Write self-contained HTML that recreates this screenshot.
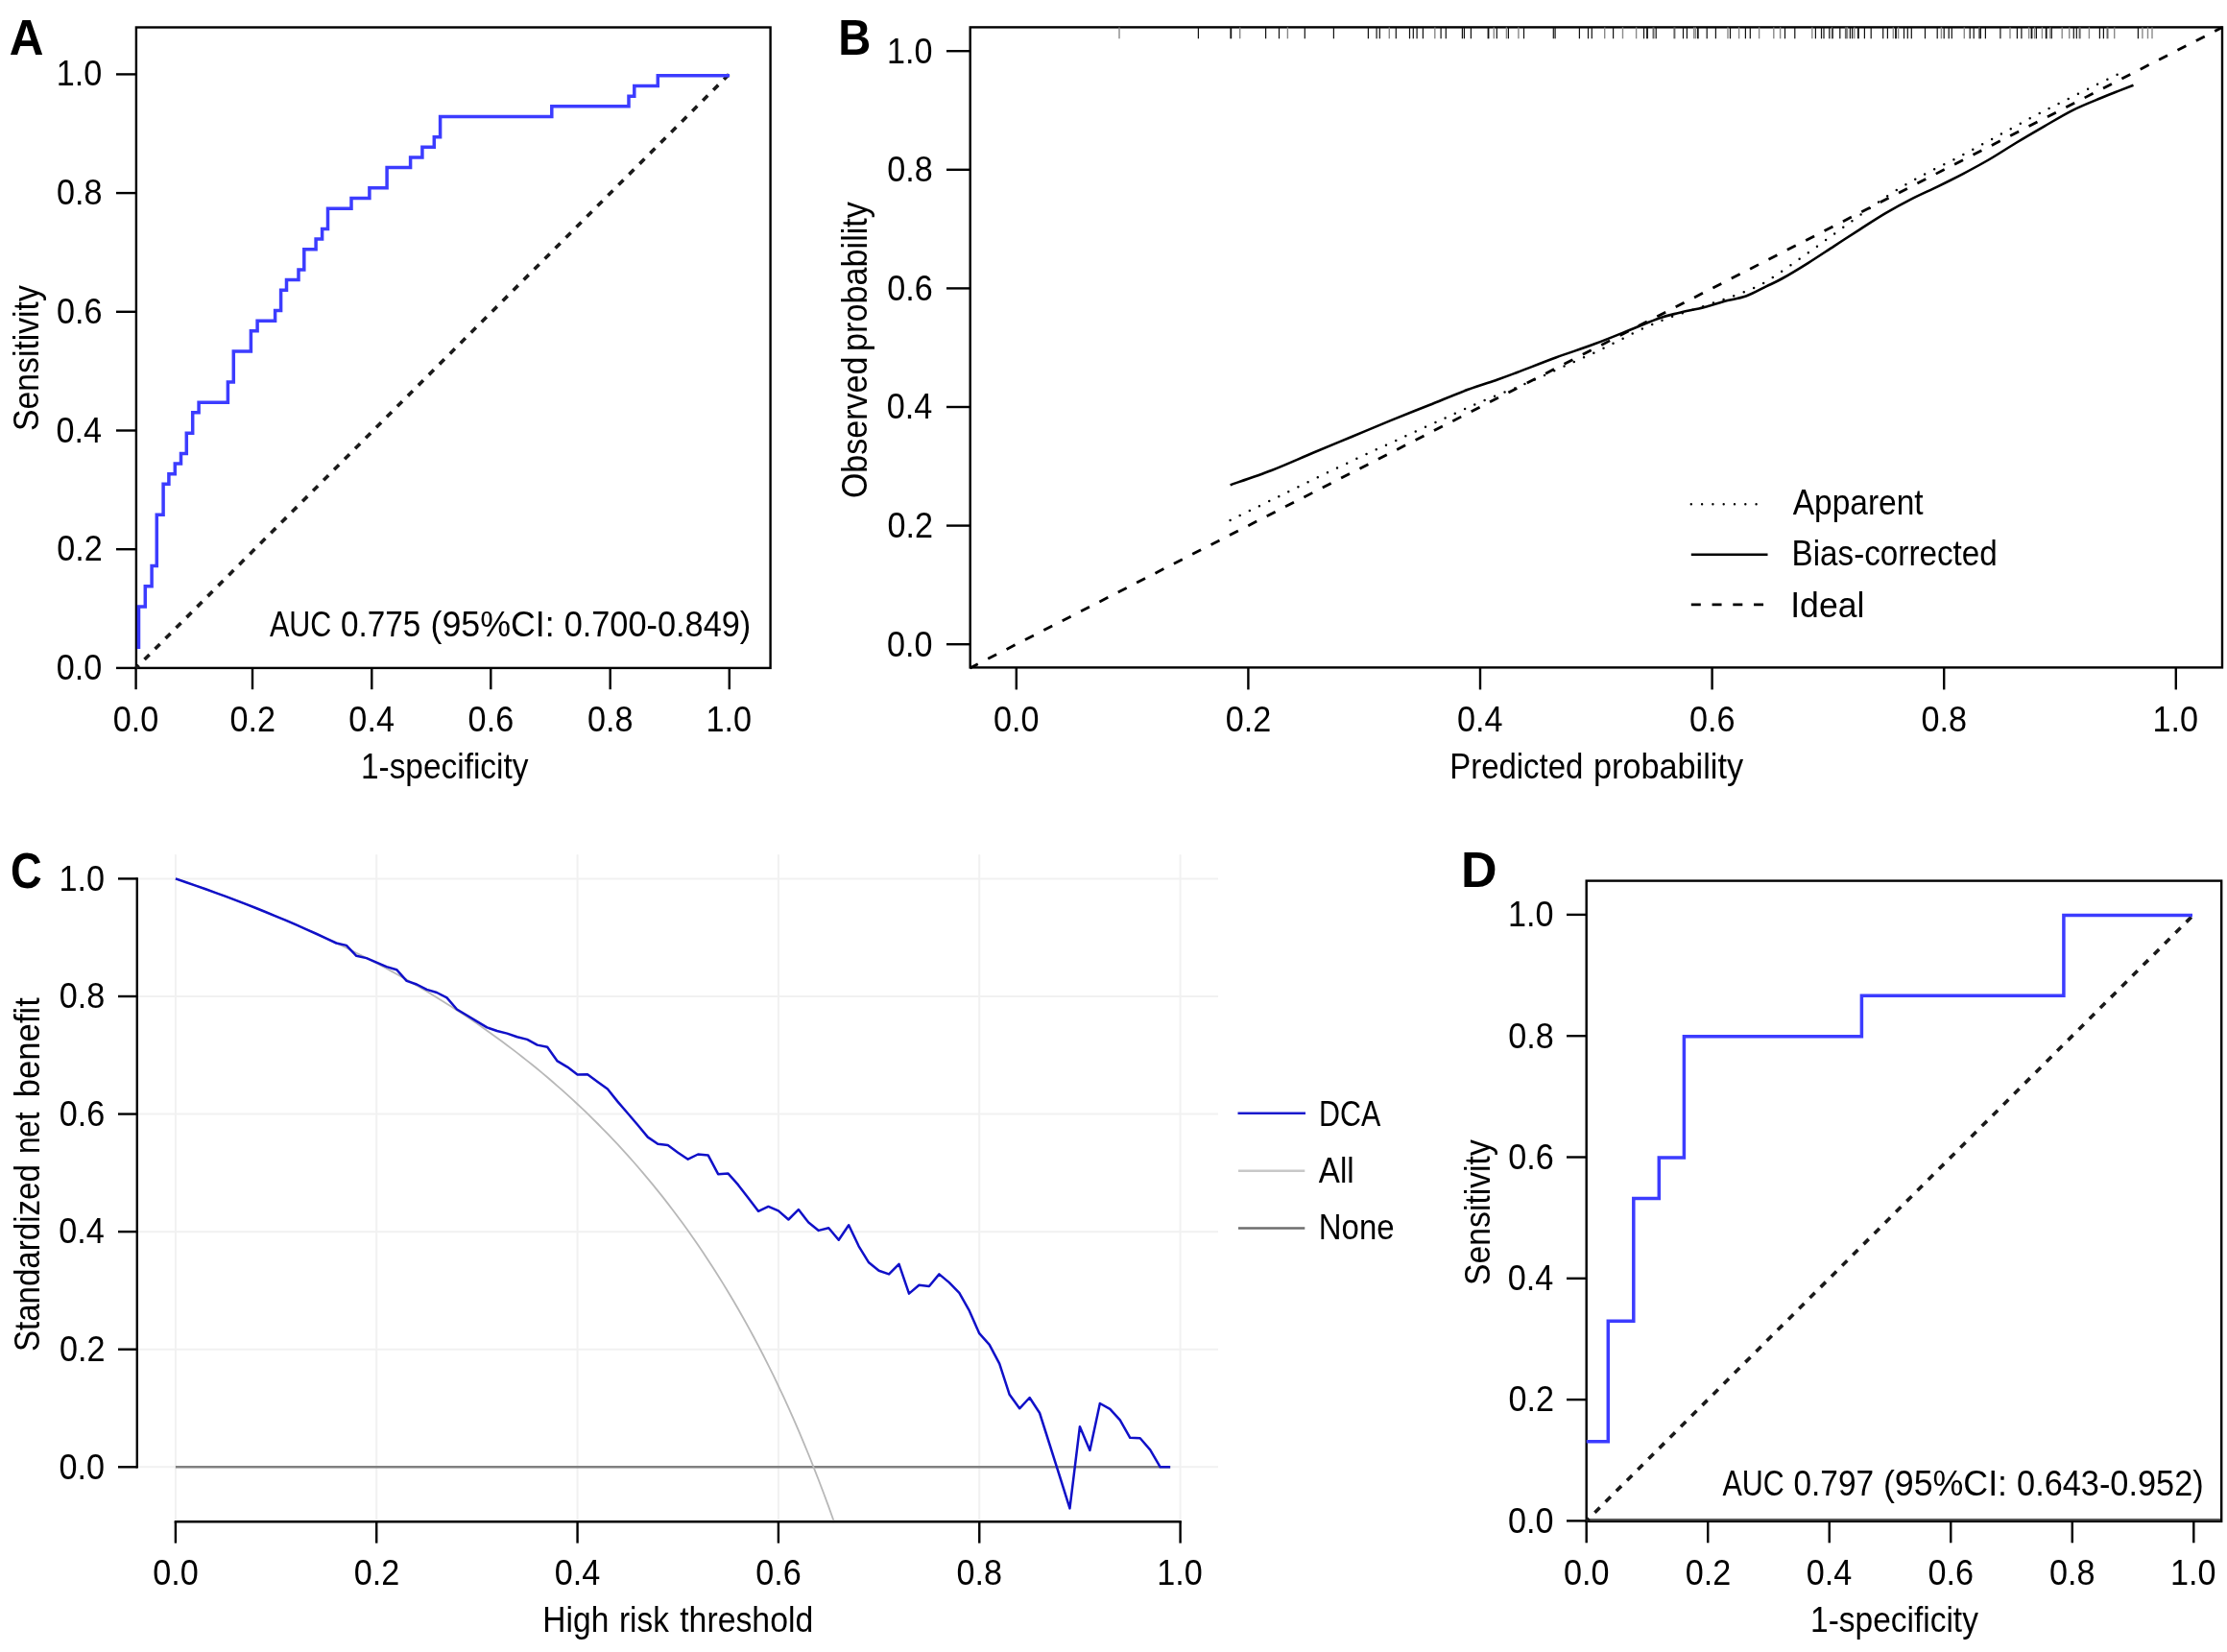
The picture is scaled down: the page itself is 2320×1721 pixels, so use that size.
<!DOCTYPE html>
<html><head><meta charset="utf-8"><style>
html,body{margin:0;padding:0;background:#fff;overflow:hidden}
svg{display:block}
svg{will-change:transform}
text{font-family:'Liberation Sans',sans-serif;font-kerning:none;font-variant-ligatures:none}
</style></head><body>
<svg width="2320" height="1721" viewBox="0 0 2320 1721">
<rect width="2320" height="1721" fill="#fff"/>
<text transform="translate(9.87 56.9) scale(0.9462 1)" font-size="52.3" font-weight="bold" fill="#000">A</text>
<rect x="141.9" y="28.5" width="660.7" height="667.4" fill="none" stroke="#000" stroke-width="2.4"/>
<line x1="121" y1="695.9" x2="141.9" y2="695.9" stroke="#000" stroke-width="2.4"/>
<text transform="translate(58.79 707.9) scale(0.9500 1)" font-size="36">0.0</text>
<line x1="141.6" y1="695.9" x2="141.6" y2="718.2" stroke="#000" stroke-width="2.4"/>
<text transform="translate(117.83 761.7) scale(0.9500 1)" font-size="36">0.0</text>
<line x1="121" y1="572.2" x2="141.9" y2="572.2" stroke="#000" stroke-width="2.4"/>
<text transform="translate(59.18 584.2) scale(0.9500 1)" font-size="36">0.2</text>
<line x1="263" y1="695.9" x2="263" y2="718.2" stroke="#000" stroke-width="2.4"/>
<text transform="translate(239.42 761.7) scale(0.9500 1)" font-size="36">0.2</text>
<line x1="121" y1="448.5" x2="141.9" y2="448.5" stroke="#000" stroke-width="2.4"/>
<text transform="translate(58.46 460.5) scale(0.9500 1)" font-size="36">0.4</text>
<line x1="387.3" y1="695.9" x2="387.3" y2="718.2" stroke="#000" stroke-width="2.4"/>
<text transform="translate(363.36 761.7) scale(0.9500 1)" font-size="36">0.4</text>
<line x1="121" y1="324.8" x2="141.9" y2="324.8" stroke="#000" stroke-width="2.4"/>
<text transform="translate(58.96 336.8) scale(0.9500 1)" font-size="36">0.6</text>
<line x1="511.3" y1="695.9" x2="511.3" y2="718.2" stroke="#000" stroke-width="2.4"/>
<text transform="translate(487.61 761.7) scale(0.9500 1)" font-size="36">0.6</text>
<line x1="121" y1="201.1" x2="141.9" y2="201.1" stroke="#000" stroke-width="2.4"/>
<text transform="translate(58.94 213.1) scale(0.9500 1)" font-size="36">0.8</text>
<line x1="635.7" y1="695.9" x2="635.7" y2="718.2" stroke="#000" stroke-width="2.4"/>
<text transform="translate(612 761.7) scale(0.9500 1)" font-size="36">0.8</text>
<line x1="121" y1="77.4" x2="141.9" y2="77.4" stroke="#000" stroke-width="2.4"/>
<text transform="translate(58.79 89.4) scale(0.9500 1)" font-size="36">1.0</text>
<line x1="759.8" y1="695.9" x2="759.8" y2="718.2" stroke="#000" stroke-width="2.4"/>
<text transform="translate(735.39 761.7) scale(0.9500 1)" font-size="36">1.0</text>
<text transform="translate(375.95 810.8) scale(0.9234 1)" font-size="36.2" fill="#000">1-specificity</text>
<text transform="translate(40 448.93) rotate(-90) scale(0.9315 1)" font-size="36.2">Sensitivity</text>
<text transform="translate(281.04 663) scale(0.8402 1)" font-size="36.2" fill="#000">AUC</text>
<text transform="translate(355.1 663) scale(0.9195 1)" font-size="36.2" fill="#000">0.775</text>
<text transform="translate(448.48 663) scale(0.9879 1)" font-size="36.2" fill="#000">(95%CI:</text>
<text transform="translate(587.66 663) scale(0.9483 1)" font-size="36.2" fill="#000">0.700-0.849)</text>
<line x1="141.7" y1="695.9" x2="759.45" y2="77.4" stroke="#1a1a1a" stroke-width="3.6" stroke-dasharray="7.2 8.33" stroke-dashoffset="3.03"/>
<polyline points="144.5,676 144.5,676 144.5,631.98 151.3,631.98 151.3,610.7 158.1,610.7 158.1,589.43 163.3,589.43 163.3,536.24 170.1,536.24 170.1,504.33 175.9,504.33 175.9,493.7 182.3,493.7 182.3,483.06 188.5,483.06 188.5,472.42 194.3,472.42 194.3,451.15 200.7,451.15 200.7,429.87 207.1,429.87 207.1,419.24 237.4,419.24 237.4,397.96 243.3,397.96 243.3,366.05 261.4,366.05 261.4,344.78 268.1,344.78 268.1,334.14 286.6,334.14 286.6,323.5 292.6,323.5 292.6,302.23 298.5,302.23 298.5,291.59 311,291.59 311,280.96 316.8,280.96 316.8,259.68 329.1,259.68 329.1,249.05 335.6,249.05 335.6,238.41 341.5,238.41 341.5,217.13 366,217.13 366,206.5 384.9,206.5 384.9,195.86 403.1,195.86 403.1,174.59 427.6,174.59 427.6,163.95 439.9,163.95 439.9,153.31 452.3,153.31 452.3,142.68 458.6,142.68 458.6,121.4 574.8,121.4 574.8,110.76 655,110.76 655,100.13 660.8,100.13 660.8,89.49 685.3,89.49 685.3,78.85 760,78.85" fill="none" stroke="#3c3cff" stroke-width="3.5" stroke-linejoin="miter"/>
<text transform="translate(873.34 57.1) scale(0.9029 1)" font-size="52.3" font-weight="bold" fill="#000">B</text>
<rect x="1010.7" y="28.4" width="1304.3" height="667" fill="none" stroke="#000" stroke-width="2.4"/>
<line x1="986" y1="671.2" x2="1010.7" y2="671.2" stroke="#000" stroke-width="2.4"/>
<text transform="translate(923.99 683.5) scale(0.9500 1)" font-size="36">0.0</text>
<line x1="1058.8" y1="695.4" x2="1058.8" y2="718.4" stroke="#000" stroke-width="2.4"/>
<text transform="translate(1035.03 761.7) scale(0.9500 1)" font-size="36">0.0</text>
<line x1="986" y1="547.6" x2="1010.7" y2="547.6" stroke="#000" stroke-width="2.4"/>
<text transform="translate(924.38 559.9) scale(0.9500 1)" font-size="36">0.2</text>
<line x1="1300.4" y1="695.4" x2="1300.4" y2="718.4" stroke="#000" stroke-width="2.4"/>
<text transform="translate(1276.82 761.7) scale(0.9500 1)" font-size="36">0.2</text>
<line x1="986" y1="424" x2="1010.7" y2="424" stroke="#000" stroke-width="2.4"/>
<text transform="translate(923.66 436.3) scale(0.9500 1)" font-size="36">0.4</text>
<line x1="1542" y1="695.4" x2="1542" y2="718.4" stroke="#000" stroke-width="2.4"/>
<text transform="translate(1518.06 761.7) scale(0.9500 1)" font-size="36">0.4</text>
<line x1="986" y1="300.4" x2="1010.7" y2="300.4" stroke="#000" stroke-width="2.4"/>
<text transform="translate(924.16 312.7) scale(0.9500 1)" font-size="36">0.6</text>
<line x1="1783.6" y1="695.4" x2="1783.6" y2="718.4" stroke="#000" stroke-width="2.4"/>
<text transform="translate(1759.91 761.7) scale(0.9500 1)" font-size="36">0.6</text>
<line x1="986" y1="176.8" x2="1010.7" y2="176.8" stroke="#000" stroke-width="2.4"/>
<text transform="translate(924.14 189.1) scale(0.9500 1)" font-size="36">0.8</text>
<line x1="2025.2" y1="695.4" x2="2025.2" y2="718.4" stroke="#000" stroke-width="2.4"/>
<text transform="translate(2001.5 761.7) scale(0.9500 1)" font-size="36">0.8</text>
<line x1="986" y1="53.2" x2="1010.7" y2="53.2" stroke="#000" stroke-width="2.4"/>
<text transform="translate(923.99 65.5) scale(0.9500 1)" font-size="36">1.0</text>
<line x1="2266.8" y1="695.4" x2="2266.8" y2="718.4" stroke="#000" stroke-width="2.4"/>
<text transform="translate(2242.39 761.7) scale(0.9500 1)" font-size="36">1.0</text>
<text transform="translate(1510.2 810.9) scale(0.9104 1)" font-size="36.2" fill="#000">Predicted</text>
<text transform="translate(1659.99 810.9) scale(0.9459 1)" font-size="36.2" fill="#000">probability</text>
<text transform="translate(903.4 519.11) rotate(-90) scale(0.9399 1)" font-size="36.2">Observed</text>
<text transform="translate(903.4 366.01) rotate(-90) scale(0.9453 1)" font-size="36.2">probability</text>
<line x1="1761.8" y1="525.2" x2="1831" y2="525.2" stroke="#000" stroke-width="2.4" stroke-dasharray="0 11.3" stroke-linecap="round"/>
<line x1="1761.8" y1="577.8" x2="1841.5" y2="577.8" stroke="#000" stroke-width="2.6"/>
<line x1="1761.8" y1="629.8" x2="1837.1" y2="629.8" stroke="#000" stroke-width="2.8" stroke-dasharray="10 11.75"/>
<text transform="translate(1867.63 536.1) scale(0.9264 1)" font-size="36.2" fill="#000">Apparent</text>
<text transform="translate(1866.57 588.6) scale(0.9181 1)" font-size="36.2" fill="#000">Bias-corrected</text>
<text transform="translate(1865.21 642.8) scale(0.9844 1)" font-size="36.2" fill="#000">Ideal</text>
<line x1="1010.48" y1="695.92" x2="2315.12" y2="28.48" stroke="#000" stroke-width="2.8" stroke-dasharray="10 11.75" stroke-dashoffset="0.69"/>
<path d="M1281.6,505.2 C1288.78,502.67 1310.33,495.57 1324.7,490 C1339.07,484.43 1353.88,477.63 1367.8,471.8 C1381.72,465.97 1394.73,460.62 1408.2,455 C1421.67,449.38 1435.13,443.6 1448.6,438.1 C1462.07,432.6 1475.53,427.38 1489,422 C1502.47,416.62 1517.57,410.22 1529.4,405.8 C1541.23,401.38 1551.5,398.47 1560,395.5 C1568.5,392.53 1570.27,391.83 1580.4,388 C1590.53,384.17 1607.33,377.45 1620.8,372.5 C1634.27,367.55 1647.72,363.35 1661.2,358.3 C1674.68,353.25 1690.47,346.68 1701.7,342.2 C1712.93,337.72 1720.75,334.1 1728.6,331.4 C1736.45,328.7 1740.93,327.9 1748.8,326 C1756.67,324.1 1767.93,322.02 1775.8,320 C1783.67,317.98 1788.82,315.82 1796,313.9 C1803.18,311.98 1811.57,311.08 1818.9,308.5 C1826.23,305.92 1833.67,301.48 1840,298.4 C1846.33,295.32 1849.58,294.1 1856.9,290 C1864.22,285.9 1874.92,279.42 1883.9,273.8 C1892.88,268.18 1901.82,262.13 1910.8,256.3 C1919.78,250.47 1928.82,244.53 1937.8,238.8 C1946.78,233.07 1955.72,227.18 1964.7,221.9 C1973.68,216.62 1982.72,211.7 1991.7,207.1 C2000.68,202.5 2009.63,198.68 2018.6,194.3 C2027.57,189.92 2036.52,185.52 2045.5,180.8 C2054.48,176.08 2063.42,171.3 2072.5,166 C2081.58,160.7 2090.48,154.73 2100,149 C2109.52,143.27 2119.72,137.3 2129.6,131.6 C2139.48,125.9 2149.42,119.73 2159.3,114.8 C2169.18,109.87 2180.67,105.45 2188.9,102 C2197.13,98.55 2203.1,96.32 2208.7,94.1 C2214.3,91.88 2220.2,89.6 2222.5,88.7" fill="none" stroke="#000" stroke-width="2.6"/>
<path d="M1281.6,541.9 C1290.12,537.75 1314.07,526.1 1332.7,517 C1351.33,507.9 1373.18,496.97 1393.4,487.3 C1413.62,477.63 1433.57,468.43 1454,459 C1474.43,449.57 1500.55,437.7 1516,430.7 C1531.45,423.7 1534.62,422.1 1546.7,417 C1558.78,411.9 1574.8,405.95 1588.5,400.1 C1602.2,394.25 1615.32,388.07 1628.9,381.9 C1642.48,375.73 1656.42,369.62 1670,363.1 C1683.58,356.58 1698.5,348.3 1710.4,342.8 C1722.3,337.3 1730.85,334.02 1741.4,330.1 C1751.95,326.18 1763.03,322.9 1773.7,319.3 C1784.37,315.7 1794.95,312.5 1805.4,308.5 C1815.85,304.5 1825,301.67 1836.4,295.3 C1847.8,288.93 1861.5,278.83 1873.8,270.3 C1886.1,261.77 1898.08,252.83 1910.2,244.1 C1922.32,235.37 1935.83,225.42 1946.5,217.9 C1957.17,210.38 1964.65,204.95 1974.2,199 C1983.75,193.05 1992.25,188.37 2003.8,182.2 C2015.35,176.03 2030.25,168.97 2043.5,162 C2056.75,155.03 2070.05,147.58 2083.3,140.4 C2096.55,133.22 2113.05,124.15 2123,118.9 C2132.95,113.65 2133,113.93 2143,108.9 C2153,103.87 2171.23,94.5 2183,88.7 C2194.77,82.9 2208.5,76.53 2213.6,74.1" fill="none" stroke="#000" stroke-width="2.5" stroke-dasharray="0 11.27" stroke-linecap="round"/>
<line x1="1166" y1="28.4" x2="1166" y2="40.3" stroke="#8a8a8a" stroke-width="1.4"/>
<line x1="1248.4" y1="28.4" x2="1248.4" y2="40.3" stroke="#111" stroke-width="1.2"/>
<line x1="1282.3" y1="28.4" x2="1282.3" y2="40.3" stroke="#111" stroke-width="1.8"/>
<line x1="1291.7" y1="28.4" x2="1291.7" y2="40.3" stroke="#8a8a8a" stroke-width="1.4"/>
<line x1="1318.6" y1="28.4" x2="1318.6" y2="40.3" stroke="#111" stroke-width="1.2"/>
<line x1="1332.5" y1="28.4" x2="1332.5" y2="40.3" stroke="#111" stroke-width="1.2"/>
<line x1="1341.4" y1="28.4" x2="1341.4" y2="40.3" stroke="#8a8a8a" stroke-width="1.4"/>
<line x1="1359.3" y1="28.4" x2="1359.3" y2="40.3" stroke="#111" stroke-width="1.2"/>
<line x1="1389.4" y1="28.4" x2="1389.4" y2="40.3" stroke="#111" stroke-width="1.2"/>
<line x1="1425.4" y1="28.4" x2="1425.4" y2="40.3" stroke="#111" stroke-width="1.2"/>
<line x1="1434.1" y1="28.4" x2="1434.1" y2="40.3" stroke="#111" stroke-width="1.2"/>
<line x1="1437.3" y1="28.4" x2="1437.3" y2="40.3" stroke="#111" stroke-width="1.2"/>
<line x1="1447.3" y1="28.4" x2="1447.3" y2="40.3" stroke="#8a8a8a" stroke-width="1.4"/>
<line x1="1454.3" y1="28.4" x2="1454.3" y2="40.3" stroke="#111" stroke-width="1.2"/>
<line x1="1468.5" y1="28.4" x2="1468.5" y2="40.3" stroke="#111" stroke-width="1.2"/>
<line x1="1472.3" y1="28.4" x2="1472.3" y2="40.3" stroke="#111" stroke-width="1.2"/>
<line x1="1476.1" y1="28.4" x2="1476.1" y2="40.3" stroke="#111" stroke-width="1.2"/>
<line x1="1482.4" y1="28.4" x2="1482.4" y2="40.3" stroke="#111" stroke-width="1.2"/>
<line x1="1494.8" y1="28.4" x2="1494.8" y2="40.3" stroke="#8a8a8a" stroke-width="1.4"/>
<line x1="1501.1" y1="28.4" x2="1501.1" y2="40.3" stroke="#111" stroke-width="1.2"/>
<line x1="1506.3" y1="28.4" x2="1506.3" y2="40.3" stroke="#111" stroke-width="1.2"/>
<line x1="1523.4" y1="28.4" x2="1523.4" y2="40.3" stroke="#111" stroke-width="1.2"/>
<line x1="1525.4" y1="28.4" x2="1525.4" y2="40.3" stroke="#111" stroke-width="1.2"/>
<line x1="1532.4" y1="28.4" x2="1532.4" y2="40.3" stroke="#111" stroke-width="1.2"/>
<line x1="1550.5" y1="28.4" x2="1550.5" y2="40.3" stroke="#111" stroke-width="1.8"/>
<line x1="1556.3" y1="28.4" x2="1556.3" y2="40.3" stroke="#8a8a8a" stroke-width="1.4"/>
<line x1="1559.3" y1="28.4" x2="1559.3" y2="40.3" stroke="#111" stroke-width="1.2"/>
<line x1="1569.4" y1="28.4" x2="1569.4" y2="40.3" stroke="#8a8a8a" stroke-width="1.4"/>
<line x1="1571.4" y1="28.4" x2="1571.4" y2="40.3" stroke="#111" stroke-width="1.2"/>
<line x1="1581.9" y1="28.4" x2="1581.9" y2="40.3" stroke="#8a8a8a" stroke-width="1.4"/>
<line x1="1587.5" y1="28.4" x2="1587.5" y2="40.3" stroke="#111" stroke-width="1.2"/>
<line x1="1618.3" y1="28.4" x2="1618.3" y2="40.3" stroke="#111" stroke-width="1.2"/>
<line x1="1620.1" y1="28.4" x2="1620.1" y2="40.3" stroke="#111" stroke-width="1.2"/>
<line x1="1645.4" y1="28.4" x2="1645.4" y2="40.3" stroke="#111" stroke-width="1.2"/>
<line x1="1654.5" y1="28.4" x2="1654.5" y2="40.3" stroke="#111" stroke-width="1.2"/>
<line x1="1658.3" y1="28.4" x2="1658.3" y2="40.3" stroke="#111" stroke-width="1.2"/>
<line x1="1671.7" y1="28.4" x2="1671.7" y2="40.3" stroke="#8a8a8a" stroke-width="1.4"/>
<line x1="1680.6" y1="28.4" x2="1680.6" y2="40.3" stroke="#111" stroke-width="1.2"/>
<line x1="1690.5" y1="28.4" x2="1690.5" y2="40.3" stroke="#8a8a8a" stroke-width="1.4"/>
<line x1="1704.6" y1="28.4" x2="1704.6" y2="40.3" stroke="#8a8a8a" stroke-width="1.4"/>
<line x1="1712.5" y1="28.4" x2="1712.5" y2="40.3" stroke="#111" stroke-width="1.2"/>
<line x1="1716" y1="28.4" x2="1716" y2="40.3" stroke="#111" stroke-width="1.8"/>
<line x1="1722.5" y1="28.4" x2="1722.5" y2="40.3" stroke="#666" stroke-width="2.0"/>
<line x1="1725.2" y1="28.4" x2="1725.2" y2="40.3" stroke="#111" stroke-width="1.2"/>
<line x1="1744.4" y1="28.4" x2="1744.4" y2="40.3" stroke="#666" stroke-width="2.0"/>
<line x1="1753.5" y1="28.4" x2="1753.5" y2="40.3" stroke="#111" stroke-width="1.2"/>
<line x1="1757.4" y1="28.4" x2="1757.4" y2="40.3" stroke="#111" stroke-width="1.2"/>
<line x1="1764.7" y1="28.4" x2="1764.7" y2="40.3" stroke="#8a8a8a" stroke-width="1.4"/>
<line x1="1766.3" y1="28.4" x2="1766.3" y2="40.3" stroke="#8a8a8a" stroke-width="1.4"/>
<line x1="1768.8" y1="28.4" x2="1768.8" y2="40.3" stroke="#111" stroke-width="1.8"/>
<line x1="1778.2" y1="28.4" x2="1778.2" y2="40.3" stroke="#111" stroke-width="1.2"/>
<line x1="1787.4" y1="28.4" x2="1787.4" y2="40.3" stroke="#111" stroke-width="1.2"/>
<line x1="1800" y1="28.4" x2="1800" y2="40.3" stroke="#8a8a8a" stroke-width="1.4"/>
<line x1="1802.5" y1="28.4" x2="1802.5" y2="40.3" stroke="#111" stroke-width="1.2"/>
<line x1="1811.6" y1="28.4" x2="1811.6" y2="40.3" stroke="#8a8a8a" stroke-width="1.4"/>
<line x1="1818.4" y1="28.4" x2="1818.4" y2="40.3" stroke="#111" stroke-width="1.2"/>
<line x1="1823.3" y1="28.4" x2="1823.3" y2="40.3" stroke="#111" stroke-width="1.2"/>
<line x1="1832.6" y1="28.4" x2="1832.6" y2="40.3" stroke="#8a8a8a" stroke-width="1.4"/>
<line x1="1847.8" y1="28.4" x2="1847.8" y2="40.3" stroke="#8a8a8a" stroke-width="1.4"/>
<line x1="1854.6" y1="28.4" x2="1854.6" y2="40.3" stroke="#8a8a8a" stroke-width="1.4"/>
<line x1="1859.5" y1="28.4" x2="1859.5" y2="40.3" stroke="#111" stroke-width="1.2"/>
<line x1="1869.8" y1="28.4" x2="1869.8" y2="40.3" stroke="#111" stroke-width="1.2"/>
<line x1="1887.8" y1="28.4" x2="1887.8" y2="40.3" stroke="#8a8a8a" stroke-width="1.4"/>
<line x1="1891.4" y1="28.4" x2="1891.4" y2="40.3" stroke="#111" stroke-width="1.2"/>
<line x1="1897.5" y1="28.4" x2="1897.5" y2="40.3" stroke="#111" stroke-width="1.2"/>
<line x1="1900" y1="28.4" x2="1900" y2="40.3" stroke="#111" stroke-width="1.2"/>
<line x1="1905.8" y1="28.4" x2="1905.8" y2="40.3" stroke="#111" stroke-width="1.2"/>
<line x1="1908.5" y1="28.4" x2="1908.5" y2="40.3" stroke="#8a8a8a" stroke-width="1.4"/>
<line x1="1909.2" y1="28.4" x2="1909.2" y2="40.3" stroke="#111" stroke-width="1.2"/>
<line x1="1916.8" y1="28.4" x2="1916.8" y2="40.3" stroke="#111" stroke-width="1.2"/>
<line x1="1922.9" y1="28.4" x2="1922.9" y2="40.3" stroke="#666" stroke-width="2.0"/>
<line x1="1924.5" y1="28.4" x2="1924.5" y2="40.3" stroke="#8a8a8a" stroke-width="1.4"/>
<line x1="1927.4" y1="28.4" x2="1927.4" y2="40.3" stroke="#111" stroke-width="1.2"/>
<line x1="1929.6" y1="28.4" x2="1929.6" y2="40.3" stroke="#111" stroke-width="1.2"/>
<line x1="1931.8" y1="28.4" x2="1931.8" y2="40.3" stroke="#8a8a8a" stroke-width="1.4"/>
<line x1="1935.9" y1="28.4" x2="1935.9" y2="40.3" stroke="#111" stroke-width="1.8"/>
<line x1="1942.4" y1="28.4" x2="1942.4" y2="40.3" stroke="#111" stroke-width="1.2"/>
<line x1="1949.2" y1="28.4" x2="1949.2" y2="40.3" stroke="#111" stroke-width="1.2"/>
<line x1="1961.7" y1="28.4" x2="1961.7" y2="40.3" stroke="#111" stroke-width="1.2"/>
<line x1="1966.4" y1="28.4" x2="1966.4" y2="40.3" stroke="#111" stroke-width="1.2"/>
<line x1="1972.3" y1="28.4" x2="1972.3" y2="40.3" stroke="#8a8a8a" stroke-width="1.4"/>
<line x1="1975" y1="28.4" x2="1975" y2="40.3" stroke="#111" stroke-width="1.8"/>
<line x1="1977.6" y1="28.4" x2="1977.6" y2="40.3" stroke="#8a8a8a" stroke-width="1.4"/>
<line x1="1983.5" y1="28.4" x2="1983.5" y2="40.3" stroke="#111" stroke-width="1.2"/>
<line x1="1987.3" y1="28.4" x2="1987.3" y2="40.3" stroke="#111" stroke-width="1.2"/>
<line x1="1991.3" y1="28.4" x2="1991.3" y2="40.3" stroke="#111" stroke-width="1.2"/>
<line x1="2005.5" y1="28.4" x2="2005.5" y2="40.3" stroke="#111" stroke-width="1.2"/>
<line x1="2018.2" y1="28.4" x2="2018.2" y2="40.3" stroke="#111" stroke-width="1.2"/>
<line x1="2022.4" y1="28.4" x2="2022.4" y2="40.3" stroke="#8a8a8a" stroke-width="1.4"/>
<line x1="2025.2" y1="28.4" x2="2025.2" y2="40.3" stroke="#111" stroke-width="1.2"/>
<line x1="2030.2" y1="28.4" x2="2030.2" y2="40.3" stroke="#111" stroke-width="1.2"/>
<line x1="2033.3" y1="28.4" x2="2033.3" y2="40.3" stroke="#111" stroke-width="1.2"/>
<line x1="2046.3" y1="28.4" x2="2046.3" y2="40.3" stroke="#8a8a8a" stroke-width="1.4"/>
<line x1="2052.2" y1="28.4" x2="2052.2" y2="40.3" stroke="#111" stroke-width="1.2"/>
<line x1="2056.2" y1="28.4" x2="2056.2" y2="40.3" stroke="#111" stroke-width="1.2"/>
<line x1="2062.1" y1="28.4" x2="2062.1" y2="40.3" stroke="#666" stroke-width="2.0"/>
<line x1="2063.3" y1="28.4" x2="2063.3" y2="40.3" stroke="#111" stroke-width="1.2"/>
<line x1="2068.4" y1="28.4" x2="2068.4" y2="40.3" stroke="#111" stroke-width="1.2"/>
<line x1="2083.9" y1="28.4" x2="2083.9" y2="40.3" stroke="#111" stroke-width="1.2"/>
<line x1="2094" y1="28.4" x2="2094" y2="40.3" stroke="#8a8a8a" stroke-width="1.4"/>
<line x1="2101.4" y1="28.4" x2="2101.4" y2="40.3" stroke="#111" stroke-width="1.2"/>
<line x1="2105.9" y1="28.4" x2="2105.9" y2="40.3" stroke="#111" stroke-width="1.2"/>
<line x1="2113.6" y1="28.4" x2="2113.6" y2="40.3" stroke="#8a8a8a" stroke-width="1.4"/>
<line x1="2116.5" y1="28.4" x2="2116.5" y2="40.3" stroke="#111" stroke-width="1.8"/>
<line x1="2119.6" y1="28.4" x2="2119.6" y2="40.3" stroke="#8a8a8a" stroke-width="1.4"/>
<line x1="2121.4" y1="28.4" x2="2121.4" y2="40.3" stroke="#111" stroke-width="1.2"/>
<line x1="2127.4" y1="28.4" x2="2127.4" y2="40.3" stroke="#8a8a8a" stroke-width="1.4"/>
<line x1="2131.7" y1="28.4" x2="2131.7" y2="40.3" stroke="#111" stroke-width="1.8"/>
<line x1="2135.8" y1="28.4" x2="2135.8" y2="40.3" stroke="#8a8a8a" stroke-width="1.4"/>
<line x1="2137.3" y1="28.4" x2="2137.3" y2="40.3" stroke="#111" stroke-width="1.2"/>
<line x1="2148.2" y1="28.4" x2="2148.2" y2="40.3" stroke="#8a8a8a" stroke-width="1.4"/>
<line x1="2155.7" y1="28.4" x2="2155.7" y2="40.3" stroke="#8a8a8a" stroke-width="1.4"/>
<line x1="2160.3" y1="28.4" x2="2160.3" y2="40.3" stroke="#111" stroke-width="1.2"/>
<line x1="2163.3" y1="28.4" x2="2163.3" y2="40.3" stroke="#111" stroke-width="1.2"/>
<line x1="2166.6" y1="28.4" x2="2166.6" y2="40.3" stroke="#666" stroke-width="2.0"/>
<line x1="2176.4" y1="28.4" x2="2176.4" y2="40.3" stroke="#8a8a8a" stroke-width="1.4"/>
<line x1="2187.4" y1="28.4" x2="2187.4" y2="40.3" stroke="#111" stroke-width="1.2"/>
<line x1="2191.4" y1="28.4" x2="2191.4" y2="40.3" stroke="#111" stroke-width="1.2"/>
<line x1="2195.5" y1="28.4" x2="2195.5" y2="40.3" stroke="#666" stroke-width="2.0"/>
<line x1="2202.7" y1="28.4" x2="2202.7" y2="40.3" stroke="#8a8a8a" stroke-width="1.4"/>
<line x1="2227.4" y1="28.4" x2="2227.4" y2="40.3" stroke="#111" stroke-width="1.2"/>
<line x1="2231.9" y1="28.4" x2="2231.9" y2="40.3" stroke="#8a8a8a" stroke-width="1.4"/>
<line x1="2237.5" y1="28.4" x2="2237.5" y2="40.3" stroke="#8a8a8a" stroke-width="1.4"/>
<line x1="2242" y1="28.4" x2="2242" y2="40.3" stroke="#8a8a8a" stroke-width="1.4"/>
<line x1="182.9" y1="890.2" x2="182.9" y2="1583" stroke="#f1f1f1" stroke-width="2.0"/>
<line x1="143" y1="1528.3" x2="1269" y2="1528.3" stroke="#f1f1f1" stroke-width="2.0"/>
<line x1="392.24" y1="890.2" x2="392.24" y2="1583" stroke="#f1f1f1" stroke-width="2.0"/>
<line x1="143" y1="1405.72" x2="1269" y2="1405.72" stroke="#f1f1f1" stroke-width="2.0"/>
<line x1="601.58" y1="890.2" x2="601.58" y2="1583" stroke="#f1f1f1" stroke-width="2.0"/>
<line x1="143" y1="1283.14" x2="1269" y2="1283.14" stroke="#f1f1f1" stroke-width="2.0"/>
<line x1="810.92" y1="890.2" x2="810.92" y2="1583" stroke="#f1f1f1" stroke-width="2.0"/>
<line x1="143" y1="1160.56" x2="1269" y2="1160.56" stroke="#f1f1f1" stroke-width="2.0"/>
<line x1="1020.26" y1="890.2" x2="1020.26" y2="1583" stroke="#f1f1f1" stroke-width="2.0"/>
<line x1="143" y1="1037.98" x2="1269" y2="1037.98" stroke="#f1f1f1" stroke-width="2.0"/>
<line x1="1229.6" y1="890.2" x2="1229.6" y2="1583" stroke="#f1f1f1" stroke-width="2.0"/>
<line x1="143" y1="915.4" x2="1269" y2="915.4" stroke="#f1f1f1" stroke-width="2.0"/>
<text transform="translate(10.94 924.8) scale(0.8656 1)" font-size="52.3" font-weight="bold" fill="#000">C</text>
<line x1="142.8" y1="914.2" x2="142.8" y2="1529.5" stroke="#000" stroke-width="2.4"/>
<line x1="181.7" y1="1585.2" x2="1230.8" y2="1585.2" stroke="#000" stroke-width="2.4"/>
<line x1="123" y1="1528.3" x2="142.8" y2="1528.3" stroke="#000" stroke-width="2.4"/>
<text transform="translate(61.59 1540.6) scale(0.9500 1)" font-size="36">0.0</text>
<line x1="182.9" y1="1585.2" x2="182.9" y2="1607.6" stroke="#000" stroke-width="2.4"/>
<text transform="translate(159.13 1650.6) scale(0.9500 1)" font-size="36">0.0</text>
<line x1="123" y1="1405.72" x2="142.8" y2="1405.72" stroke="#000" stroke-width="2.4"/>
<text transform="translate(61.98 1418.02) scale(0.9500 1)" font-size="36">0.2</text>
<line x1="392.24" y1="1585.2" x2="392.24" y2="1607.6" stroke="#000" stroke-width="2.4"/>
<text transform="translate(368.66 1650.6) scale(0.9500 1)" font-size="36">0.2</text>
<line x1="123" y1="1283.14" x2="142.8" y2="1283.14" stroke="#000" stroke-width="2.4"/>
<text transform="translate(61.26 1295.44) scale(0.9500 1)" font-size="36">0.4</text>
<line x1="601.58" y1="1585.2" x2="601.58" y2="1607.6" stroke="#000" stroke-width="2.4"/>
<text transform="translate(577.64 1650.6) scale(0.9500 1)" font-size="36">0.4</text>
<line x1="123" y1="1160.56" x2="142.8" y2="1160.56" stroke="#000" stroke-width="2.4"/>
<text transform="translate(61.76 1172.86) scale(0.9500 1)" font-size="36">0.6</text>
<line x1="810.92" y1="1585.2" x2="810.92" y2="1607.6" stroke="#000" stroke-width="2.4"/>
<text transform="translate(787.23 1650.6) scale(0.9500 1)" font-size="36">0.6</text>
<line x1="123" y1="1037.98" x2="142.8" y2="1037.98" stroke="#000" stroke-width="2.4"/>
<text transform="translate(61.74 1050.28) scale(0.9500 1)" font-size="36">0.8</text>
<line x1="1020.26" y1="1585.2" x2="1020.26" y2="1607.6" stroke="#000" stroke-width="2.4"/>
<text transform="translate(996.56 1650.6) scale(0.9500 1)" font-size="36">0.8</text>
<line x1="123" y1="915.4" x2="142.8" y2="915.4" stroke="#000" stroke-width="2.4"/>
<text transform="translate(61.59 927.7) scale(0.9500 1)" font-size="36">1.0</text>
<line x1="1229.6" y1="1585.2" x2="1229.6" y2="1607.6" stroke="#000" stroke-width="2.4"/>
<text transform="translate(1205.19 1650.6) scale(0.9500 1)" font-size="36">1.0</text>
<text transform="translate(565.35 1699.8) scale(0.9258 1)" font-size="36.2" fill="#000">High</text>
<text transform="translate(644.99 1699.8) scale(0.9213 1)" font-size="36.2" fill="#000">risk</text>
<text transform="translate(708.19 1699.8) scale(0.9340 1)" font-size="36.2" fill="#000">threshold</text>
<text transform="translate(41.3 1408) rotate(-90) scale(0.9133 1)" font-size="36.2">Standardized</text>
<text transform="translate(41.3 1202.08) rotate(-90) scale(0.8667 1)" font-size="36.2">net</text>
<text transform="translate(41.3 1143.23) rotate(-90) scale(0.9577 1)" font-size="36.2">benefit</text>
<line x1="1289.5" y1="1159.8" x2="1360" y2="1159.8" stroke="#1a1acd" stroke-width="2.4"/>
<line x1="1290" y1="1219.7" x2="1359.3" y2="1219.7" stroke="#c8c8c8" stroke-width="2.4"/>
<line x1="1290" y1="1279.5" x2="1359.3" y2="1279.5" stroke="#6e6e6e" stroke-width="2.4"/>
<text transform="translate(1374 1172.7) scale(0.8407 1)" font-size="36.2" fill="#000">DCA</text>
<text transform="translate(1373.84 1231.9) scale(0.9142 1)" font-size="36.2" fill="#000">All</text>
<text transform="translate(1373.8 1290.5) scale(0.9102 1)" font-size="36.2" fill="#000">None</text>
<line x1="182.9" y1="1528.3" x2="1219.13" y2="1528.3" stroke="#808080" stroke-width="2.5"/>
<polyline points="182.9,915.4 188.13,917.17 193.37,918.96 198.6,920.76 203.83,922.59 209.07,924.43 214.3,926.3 219.53,928.18 224.77,930.08 230,932 235.24,933.94 240.47,935.9 245.7,937.89 250.94,939.89 256.17,941.92 261.4,943.96 266.64,946.03 271.87,948.13 277.1,950.24 282.34,952.38 287.57,954.54 292.8,956.73 298.04,958.94 303.27,961.18 308.5,963.44 313.74,965.73 318.97,968.04 324.2,970.38 329.44,972.75 334.67,975.15 339.91,977.57 345.14,980.02 350.37,982.5 355.61,985.02 360.84,987.56 366.07,990.13 371.31,992.73 376.54,995.37 381.77,998.04 387.01,1000.74 392.24,1003.47 397.47,1006.24 402.71,1009.05 407.94,1011.89 413.17,1014.77 418.41,1017.68 423.64,1020.63 428.87,1023.62 434.11,1026.65 439.34,1029.72 444.58,1032.83 449.81,1035.98 455.04,1039.18 460.28,1042.42 465.51,1045.7 470.74,1049.03 475.98,1052.4 481.21,1055.83 486.44,1059.3 491.68,1062.81 496.91,1066.38 502.14,1070.01 507.38,1073.68 512.61,1077.41 517.84,1081.19 523.08,1085.02 528.31,1088.92 533.54,1092.87 538.78,1096.89 544.01,1100.96 549.25,1105.1 554.48,1109.3 559.71,1113.57 564.95,1117.9 570.18,1122.3 575.41,1126.78 580.65,1131.32 585.88,1135.94 591.11,1140.64 596.35,1145.41 601.58,1150.26 606.81,1155.2 612.05,1160.22 617.28,1165.32 622.51,1170.51 627.75,1175.79 632.98,1181.17 638.21,1186.64 643.45,1192.2 648.68,1197.87 653.92,1203.64 659.15,1209.52 664.38,1215.5 669.62,1221.6 674.85,1227.81 680.08,1234.14 685.32,1240.6 690.55,1247.17 695.78,1253.88 701.02,1260.72 706.25,1267.7 711.48,1274.81 716.72,1282.08 721.95,1289.49 727.18,1297.05 732.42,1304.78 737.65,1312.67 742.88,1320.73 748.12,1328.97 753.35,1337.38 758.59,1345.99 763.82,1354.78 769.05,1363.78 774.29,1372.98 779.52,1382.4 784.75,1392.04 789.99,1401.91 795.22,1412.01 800.45,1422.36 805.69,1432.97 810.92,1443.85 816.15,1454.99 821.39,1466.43 826.62,1478.16 831.85,1490.2 837.09,1502.56 842.32,1515.26 847.55,1528.3 852.79,1541.71 858.02,1555.49 863.26,1569.67 868.49,1584.25" fill="none" stroke="#b8b8b8" stroke-width="1.8"/>
<polyline points="182.9,915.4 193.37,918.96 203.83,922.59 214.3,926.3 224.77,930.08 235.24,933.94 245.7,937.89 256.17,941.92 266.64,946.03 277.1,950.24 287.57,954.54 298.04,958.94 308.5,963.44 318.97,968.04 329.44,972.75 339.9,977.57 350.37,982.5 360.84,984.9 371.31,995.8 381.77,998.1 392.24,1002.6 402.71,1007.1 413.17,1010.2 423.64,1021.9 434.11,1025.5 444.58,1030.9 455.04,1034 465.51,1039.4 475.98,1051.5 486.44,1057.8 496.91,1064.1 507.38,1070.4 517.84,1074 528.31,1076.6 538.78,1080.2 549.25,1082.9 559.71,1088.6 570.18,1090.8 580.65,1105.4 591.11,1111.6 601.58,1119.5 612.05,1119.3 622.51,1126.9 632.98,1134.5 643.45,1147.6 653.92,1159.7 664.38,1172 674.85,1184.6 685.32,1191.8 695.78,1193.1 706.25,1200.7 716.72,1207.7 727.18,1202.5 737.65,1203.4 748.12,1223.2 758.59,1222.6 769.05,1234.4 779.52,1247.9 789.99,1261.8 800.45,1256.9 810.92,1261.4 821.39,1270.5 831.85,1260.1 842.32,1273.6 852.79,1281.9 863.25,1279.2 873.72,1291.8 884.19,1276.3 894.66,1298.3 905.12,1315.3 915.59,1323.8 926.06,1327.4 936.52,1316.9 946.99,1347.6 957.46,1338.8 967.93,1340 978.39,1327.4 988.86,1336.1 999.33,1346.8 1009.79,1365.4 1020.26,1389.2 1030.73,1400.8 1041.19,1420.7 1051.66,1452.8 1062.13,1467.3 1072.6,1456 1083.06,1472 1093.53,1505 1104,1538 1114.46,1571.4 1124.93,1486.2 1135.4,1510.9 1145.86,1462 1156.33,1467.8 1166.8,1479.4 1177.27,1497.8 1187.73,1498.3 1198.2,1510.4 1208.67,1528.3 1219.13,1528.3" fill="none" stroke="#1010c8" stroke-width="2.5" stroke-linejoin="round"/>
<text transform="translate(1522.12 924) scale(0.9946 1)" font-size="52.3" font-weight="bold" fill="#000">D</text>
<line x1="1652.7" y1="1582.9" x2="2314.2" y2="1582.9" stroke="#555" stroke-width="1.6"/>
<rect x="1652.7" y="917.6" width="661.5" height="667.3" fill="none" stroke="#000" stroke-width="2.4"/>
<line x1="1632" y1="1584.4" x2="1652.7" y2="1584.4" stroke="#000" stroke-width="2.4"/>
<text transform="translate(1571.09 1596.7) scale(0.9500 1)" font-size="36">0.0</text>
<line x1="1652.7" y1="1584.9" x2="1652.7" y2="1607.3" stroke="#000" stroke-width="2.4"/>
<text transform="translate(1628.93 1650.7) scale(0.9500 1)" font-size="36">0.0</text>
<line x1="1632" y1="1458.1" x2="1652.7" y2="1458.1" stroke="#000" stroke-width="2.4"/>
<text transform="translate(1571.48 1470.4) scale(0.9500 1)" font-size="36">0.2</text>
<line x1="1779.22" y1="1584.9" x2="1779.22" y2="1607.3" stroke="#000" stroke-width="2.4"/>
<text transform="translate(1755.64 1650.7) scale(0.9500 1)" font-size="36">0.2</text>
<line x1="1632" y1="1331.8" x2="1652.7" y2="1331.8" stroke="#000" stroke-width="2.4"/>
<text transform="translate(1570.76 1344.1) scale(0.9500 1)" font-size="36">0.4</text>
<line x1="1905.74" y1="1584.9" x2="1905.74" y2="1607.3" stroke="#000" stroke-width="2.4"/>
<text transform="translate(1881.8 1650.7) scale(0.9500 1)" font-size="36">0.4</text>
<line x1="1632" y1="1205.5" x2="1652.7" y2="1205.5" stroke="#000" stroke-width="2.4"/>
<text transform="translate(1571.26 1217.8) scale(0.9500 1)" font-size="36">0.6</text>
<line x1="2032.26" y1="1584.9" x2="2032.26" y2="1607.3" stroke="#000" stroke-width="2.4"/>
<text transform="translate(2008.57 1650.7) scale(0.9500 1)" font-size="36">0.6</text>
<line x1="1632" y1="1079.2" x2="1652.7" y2="1079.2" stroke="#000" stroke-width="2.4"/>
<text transform="translate(1571.24 1091.5) scale(0.9500 1)" font-size="36">0.8</text>
<line x1="2158.78" y1="1584.9" x2="2158.78" y2="1607.3" stroke="#000" stroke-width="2.4"/>
<text transform="translate(2135.08 1650.7) scale(0.9500 1)" font-size="36">0.8</text>
<line x1="1632" y1="952.9" x2="1652.7" y2="952.9" stroke="#000" stroke-width="2.4"/>
<text transform="translate(1571.09 965.2) scale(0.9500 1)" font-size="36">1.0</text>
<line x1="2285.3" y1="1584.9" x2="2285.3" y2="1607.3" stroke="#000" stroke-width="2.4"/>
<text transform="translate(2260.89 1650.7) scale(0.9500 1)" font-size="36">1.0</text>
<text transform="translate(1886.05 1699.9) scale(0.9245 1)" font-size="36.2" fill="#000">1-specificity</text>
<text transform="translate(1551.5 1338.93) rotate(-90) scale(0.9315 1)" font-size="36.2">Sensitivity</text>
<text transform="translate(1794.44 1557.6) scale(0.8402 1)" font-size="36.2" fill="#000">AUC</text>
<text transform="translate(1868.5 1557.6) scale(0.9227 1)" font-size="36.2" fill="#000">0.797</text>
<text transform="translate(1961.88 1557.6) scale(0.9879 1)" font-size="36.2" fill="#000">(95%CI:</text>
<text transform="translate(2101.06 1557.6) scale(0.9483 1)" font-size="36.2" fill="#000">0.643-0.952)</text>
<line x1="1652.7" y1="1584.4" x2="2285.3" y2="952.9" stroke="#1a1a1a" stroke-width="3.6" stroke-dasharray="7.4 8.43" stroke-dashoffset="3.53"/>
<polyline points="1652.7,1501.8 1675.3,1501.8 1675.3,1376.3 1701.8,1376.3 1701.8,1248.4 1728.3,1248.4 1728.3,1206 1754.4,1206 1754.4,1079.8 1939.4,1079.8 1939.4,1037.2 2149.9,1037.2 2149.9,953.5 2284,953.5" fill="none" stroke="#3c3cff" stroke-width="3.5"/>
</svg>
</body></html>
